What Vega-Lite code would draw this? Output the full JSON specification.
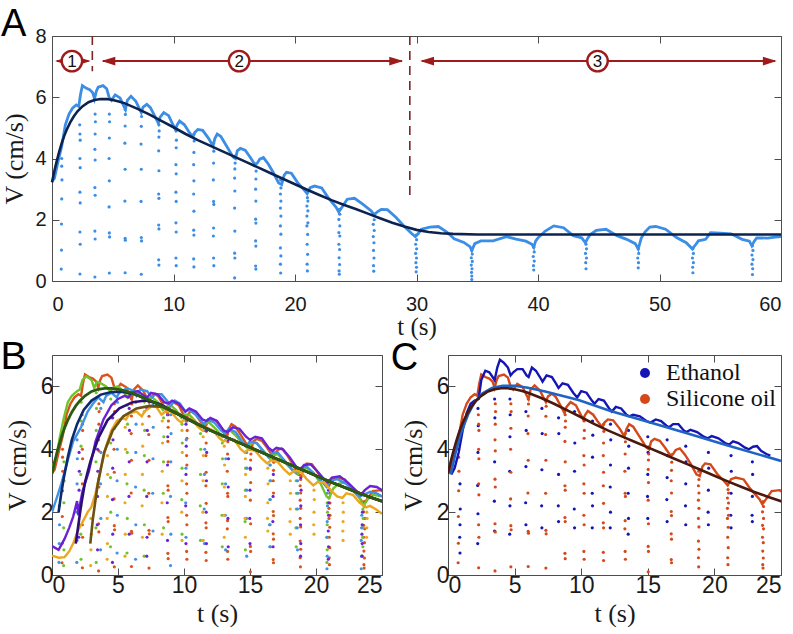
{
"$schema": "https://vega.github.io/schema/vega-lite/v6.json",
"padding": {"left": 0, "top": 5, "right": 0, "bottom": 0},
"background": "white",
"config": {
  "view": {"stroke": "#4d4d4d", "strokeWidth": 1},
  "axis": {"grid": false, "domain": false, "tickColor": "#4d4d4d", "tickWidth": 1, "labelFont": "Liberation Sans", "labelColor": "#1a1a1a", "titleFont": "Liberation Serif", "titleFontWeight": "normal", "titleColor": "#1a1a1a"}
},
"datasets": {
  "aTrace": [{"t":0,"v":3.25},{"t":0.2,"v":3.35},{"t":0.5,"v":3.9},{"t":0.8,"v":4.4},{"t":1.1,"v":5.1},{"t":1.4,"v":5.45},{"t":1.7,"v":5.65},{"t":2.0,"v":5.75},{"t":2.2,"v":5.7},{"t":2.35,"v":6.1},{"t":2.5,"v":6.38},{"t":2.8,"v":6.3},{"t":3.1,"v":6.25},{"t":3.35,"v":6.15},{"t":3.5,"v":5.95},{"t":3.65,"v":6.2},{"t":3.8,"v":6.33},{"t":4.2,"v":6.38},{"t":4.5,"v":6.28},{"t":4.7,"v":6.0},{"t":4.9,"v":5.9},{"t":5.2,"v":6.08},{"t":5.6,"v":5.98},{"t":5.9,"v":5.72},{"t":6.05,"v":5.6},{"t":6.2,"v":5.9},{"t":6.5,"v":6.03},{"t":6.9,"v":5.87},{"t":7.2,"v":5.62},{"t":7.35,"v":5.5},{"t":7.5,"v":5.68},{"t":7.8,"v":5.77},{"t":8.1,"v":5.66},{"t":8.5,"v":5.35},{"t":8.75,"v":5.15},{"t":8.9,"v":5.35},{"t":9.2,"v":5.5},{"t":9.6,"v":5.4},{"t":9.9,"v":5.15},{"t":10.15,"v":4.95},{"t":10.3,"v":5.1},{"t":10.5,"v":5.22},{"t":10.9,"v":5.1},{"t":11.3,"v":4.85},{"t":11.6,"v":4.7},{"t":11.75,"v":4.85},{"t":12.0,"v":4.95},{"t":12.4,"v":4.92},{"t":12.9,"v":4.65},{"t":13.25,"v":4.4},{"t":13.4,"v":4.65},{"t":13.6,"v":4.8},{"t":13.9,"v":4.72},{"t":14.5,"v":4.32},{"t":14.9,"v":4.05},{"t":15.1,"v":4.0},{"t":15.25,"v":4.25},{"t":15.5,"v":4.33},{"t":15.9,"v":4.27},{"t":16.3,"v":4.05},{"t":16.7,"v":3.8},{"t":16.9,"v":3.85},{"t":17.1,"v":3.98},{"t":17.4,"v":4.03},{"t":17.8,"v":3.82},{"t":18.2,"v":3.55},{"t":18.65,"v":3.2},{"t":18.9,"v":3.15},{"t":19.1,"v":3.45},{"t":19.3,"v":3.55},{"t":19.7,"v":3.52},{"t":20.2,"v":3.22},{"t":20.8,"v":2.95},{"t":21.0,"v":2.85},{"t":21.25,"v":3.05},{"t":21.6,"v":3.1},{"t":22.2,"v":3.04},{"t":22.7,"v":2.74},{"t":23.4,"v":2.4},{"t":23.6,"v":2.25},{"t":23.85,"v":2.4},{"t":24.3,"v":2.67},{"t":24.9,"v":2.7},{"t":25.6,"v":2.5},{"t":26.3,"v":2.28},{"t":26.5,"v":2.15},{"t":26.75,"v":2.25},{"t":27.1,"v":2.34},{"t":27.6,"v":2.33},{"t":28.3,"v":2.08},{"t":29.0,"v":1.78},{"t":29.6,"v":1.55},{"t":29.9,"v":1.45},{"t":30.15,"v":1.55},{"t":30.4,"v":1.69},{"t":31.1,"v":1.76},{"t":31.8,"v":1.78},{"t":32.5,"v":1.6},{"t":33.1,"v":1.38},{"t":33.9,"v":1.26},{"t":34.4,"v":1.12},{"t":34.55,"v":1.0},{"t":34.8,"v":1.22},{"t":35.3,"v":1.31},{"t":36.3,"v":1.31},{"t":37.4,"v":1.45},{"t":38.2,"v":1.37},{"t":39.0,"v":1.3},{"t":39.5,"v":1.2},{"t":39.65,"v":1.1},{"t":39.8,"v":1.3},{"t":40.0,"v":1.41},{"t":40.6,"v":1.63},{"t":41.3,"v":1.8},{"t":42.1,"v":1.74},{"t":42.9,"v":1.48},{"t":43.6,"v":1.41},{"t":43.9,"v":1.25},{"t":44.1,"v":1.4},{"t":44.3,"v":1.52},{"t":44.8,"v":1.65},{"t":45.6,"v":1.69},{"t":46.5,"v":1.48},{"t":47.3,"v":1.36},{"t":48.0,"v":1.22},{"t":48.25,"v":1.05},{"t":48.5,"v":1.4},{"t":48.8,"v":1.6},{"t":49.2,"v":1.76},{"t":49.7,"v":1.78},{"t":50.5,"v":1.69},{"t":51.4,"v":1.42},{"t":52.2,"v":1.25},{"t":52.7,"v":1.05},{"t":53.0,"v":1.2},{"t":53.2,"v":1.31},{"t":53.8,"v":1.36},{"t":54.2,"v":1.58},{"t":55.0,"v":1.56},{"t":55.9,"v":1.54},{"t":56.8,"v":1.36},{"t":57.4,"v":1.3},{"t":57.6,"v":1.15},{"t":57.8,"v":1.3},{"t":58.0,"v":1.41},{"t":58.9,"v":1.4},{"t":59.5,"v":1.43},{"t":60,"v":1.45}],
  "aDots": [
   {"t":0.8,"v":4.0},{"t":0.8,"v":3.75},{"t":0.82,"v":3.3},{"t":0.8,"v":2.68},{"t":0.78,"v":1.86},{"t":0.78,"v":1.01},{"t":0.76,"v":0.39},
   {"t":2.28,"v":5.1},{"t":2.3,"v":4.8},{"t":2.32,"v":4.6},{"t":2.3,"v":4.0},{"t":2.32,"v":3.7},{"t":2.3,"v":2.9},{"t":2.32,"v":2.55},{"t":2.3,"v":1.6},{"t":2.32,"v":1.2},{"t":2.3,"v":0.23},
   {"t":3.55,"v":5.45},{"t":3.57,"v":5.2},{"t":3.55,"v":4.8},{"t":3.53,"v":4.3},{"t":3.55,"v":3.95},{"t":3.53,"v":3.05},{"t":3.55,"v":2.8},{"t":3.53,"v":1.63},{"t":3.55,"v":1.37},{"t":3.53,"v":0.13},
   {"t":4.72,"v":5.45},{"t":4.74,"v":5.2},{"t":4.72,"v":4.67},{"t":4.7,"v":4.0},{"t":4.72,"v":3.27},{"t":4.7,"v":2.42},{"t":4.72,"v":1.57},{"t":4.74,"v":1.44},{"t":4.72,"v":0.26},
   {"t":6.02,"v":5.6},{"t":6.04,"v":5.44},{"t":6.02,"v":5.06},{"t":6.0,"v":4.5},{"t":6.02,"v":3.65},{"t":6.0,"v":2.61},{"t":6.02,"v":1.39},{"t":6.04,"v":1.33},{"t":6.02,"v":0.27},
   {"t":7.35,"v":5.57},{"t":7.37,"v":5.37},{"t":7.35,"v":5.05},{"t":7.33,"v":4.47},{"t":7.35,"v":3.65},{"t":7.33,"v":2.6},{"t":7.35,"v":1.42},{"t":7.37,"v":1.31},{"t":7.35,"v":0.22},
   {"t":8.8,"v":5.1},{"t":8.82,"v":4.9},{"t":8.8,"v":4.7},{"t":8.78,"v":4.25},{"t":8.8,"v":3.6},{"t":8.78,"v":2.84},{"t":8.8,"v":2.7},{"t":8.78,"v":1.83},{"t":8.8,"v":1.7},{"t":8.78,"v":0.69},{"t":8.8,"v":0.52},
   {"t":10.22,"v":4.9},{"t":10.24,"v":4.6},{"t":10.22,"v":4.35},{"t":10.2,"v":3.8},{"t":10.22,"v":3.5},{"t":10.2,"v":2.9},{"t":10.22,"v":2.6},{"t":10.2,"v":1.9},{"t":10.22,"v":1.6},{"t":10.2,"v":0.75},{"t":10.22,"v":0.5},
   {"t":11.68,"v":4.8},{"t":11.7,"v":4.57},{"t":11.68,"v":4.2},{"t":11.66,"v":3.8},{"t":11.68,"v":3.27},{"t":11.66,"v":2.84},{"t":11.68,"v":2.28},{"t":11.66,"v":1.66},{"t":11.68,"v":1.5},{"t":11.66,"v":0.72},{"t":11.68,"v":0.46},
   {"t":13.3,"v":4.5},{"t":13.32,"v":4.24},{"t":13.3,"v":3.85},{"t":13.28,"v":3.3},{"t":13.3,"v":2.6},{"t":13.32,"v":2.5},{"t":13.3,"v":1.73},{"t":13.28,"v":1.47},{"t":13.3,"v":0.75},{"t":13.32,"v":0.5},
   {"t":15.05,"v":4.08},{"t":15.07,"v":3.85},{"t":15.05,"v":3.66},{"t":15.03,"v":3.36},{"t":15.05,"v":2.94},{"t":15.03,"v":2.38},{"t":15.05,"v":1.63},{"t":15.03,"v":0.91},{"t":15.05,"v":0.75},{"t":15.03,"v":0.1},
   {"t":16.78,"v":3.82},{"t":16.8,"v":3.59},{"t":16.78,"v":3.33},{"t":16.76,"v":3.0},{"t":16.78,"v":2.61},{"t":16.76,"v":2.02},{"t":16.78,"v":1.89},{"t":16.76,"v":1.31},{"t":16.78,"v":1.14},{"t":16.76,"v":0.49},{"t":16.78,"v":0.39},
   {"t":18.82,"v":3.3},{"t":18.84,"v":3.04},{"t":18.8,"v":2.84},{"t":18.84,"v":2.61},{"t":18.8,"v":2.38},{"t":18.84,"v":2.12},{"t":18.8,"v":1.8},{"t":18.84,"v":1.53},{"t":18.8,"v":1.08},{"t":18.84,"v":0.82},{"t":18.8,"v":0.55},{"t":18.82,"v":0.26},
   {"t":21.02,"v":2.72},{"t":21.06,"v":2.61},{"t":20.98,"v":2.45},{"t":21.06,"v":2.29},{"t":20.98,"v":2.12},{"t":21.06,"v":1.9},{"t":20.98,"v":1.8},{"t":21.04,"v":1.52},{"t":21.0,"v":1.2},{"t":21.04,"v":0.87},{"t":21.0,"v":0.55},{"t":21.02,"v":0.33},
   {"t":23.65,"v":2.34},{"t":23.69,"v":2.18},{"t":23.61,"v":2.01},{"t":23.69,"v":1.8},{"t":23.61,"v":1.58},{"t":23.69,"v":1.47},{"t":23.61,"v":1.2},{"t":23.67,"v":1.03},{"t":23.63,"v":0.76},{"t":23.67,"v":0.54},{"t":23.63,"v":0.33},{"t":23.65,"v":0.22},
   {"t":26.48,"v":2.2},{"t":26.52,"v":2.0},{"t":26.44,"v":1.85},{"t":26.52,"v":1.65},{"t":26.44,"v":1.45},{"t":26.5,"v":1.25},{"t":26.46,"v":1.0},{"t":26.5,"v":0.75},{"t":26.46,"v":0.5},{"t":26.48,"v":0.32},
   {"t":29.97,"v":1.5},{"t":30.01,"v":1.35},{"t":29.93,"v":1.2},{"t":30.01,"v":1.05},{"t":29.93,"v":0.9},{"t":30.0,"v":0.75},{"t":29.95,"v":0.6},{"t":30.0,"v":0.45},{"t":29.97,"v":0.3},
   {"t":34.55,"v":1.0},{"t":34.59,"v":0.88},{"t":34.51,"v":0.76},{"t":34.59,"v":0.64},{"t":34.51,"v":0.52},{"t":34.57,"v":0.4},{"t":34.53,"v":0.28},{"t":34.55,"v":0.16},{"t":34.55,"v":0.05},
   {"t":39.65,"v":1.1},{"t":39.69,"v":0.95},{"t":39.61,"v":0.8},{"t":39.69,"v":0.65},{"t":39.63,"v":0.5},{"t":39.65,"v":0.36},
   {"t":43.95,"v":1.2},{"t":43.99,"v":1.05},{"t":43.91,"v":0.9},{"t":43.99,"v":0.75},{"t":43.93,"v":0.6},{"t":43.95,"v":0.4},
   {"t":48.25,"v":1.05},{"t":48.29,"v":0.9},{"t":48.21,"v":0.75},{"t":48.27,"v":0.6},{"t":48.25,"v":0.43},
   {"t":52.75,"v":1.05},{"t":52.79,"v":0.9},{"t":52.71,"v":0.75},{"t":52.79,"v":0.6},{"t":52.73,"v":0.45},{"t":52.75,"v":0.27},
   {"t":57.65,"v":1.15},{"t":57.69,"v":1.0},{"t":57.61,"v":0.85},{"t":57.69,"v":0.7},{"t":57.61,"v":0.55},{"t":57.67,"v":0.4},{"t":57.65,"v":0.21}],
  "aFit": [{"t":0,"v":3.22},{"t":0.2,"v":3.6},{"t":0.4,"v":3.93},{"t":0.6,"v":4.23},{"t":0.8,"v":4.5},{"t":1.0,"v":4.73},{"t":1.2,"v":4.93},{"t":1.5,"v":5.18},{"t":1.8,"v":5.38},{"t":2.1,"v":5.54},{"t":2.5,"v":5.7},{"t":3.0,"v":5.84},{"t":3.5,"v":5.91},{"t":4.0,"v":5.94},{"t":4.5,"v":5.94},{"t":5.0,"v":5.91},{"t":5.5,"v":5.86},{"t":6.0,"v":5.8},{"t":7.0,"v":5.63},{"t":8.0,"v":5.44},{"t":9.0,"v":5.23},{"t":10.0,"v":5.02},{"t":11.0,"v":4.8},{"t":12.0,"v":4.6},{"t":13.0,"v":4.42},{"t":14.0,"v":4.24},{"t":15.0,"v":4.06},{"t":16.0,"v":3.88},{"t":17.0,"v":3.7},{"t":18.0,"v":3.52},{"t":19.0,"v":3.34},{"t":20.0,"v":3.16},{"t":21.0,"v":2.98},{"t":22.0,"v":2.81},{"t":23.0,"v":2.64},{"t":24.0,"v":2.49},{"t":25.0,"v":2.35},{"t":26.0,"v":2.2},{"t":27.0,"v":2.05},{"t":28.0,"v":1.9},{"t":29.0,"v":1.78},{"t":30.0,"v":1.67},{"t":31.0,"v":1.6},{"t":32.0,"v":1.56},{"t":33.0,"v":1.54},{"t":35.0,"v":1.52},{"t":40,"v":1.52},{"t":50,"v":1.52},{"t":60,"v":1.52}],
  "aRules": [{"t":3.32,"v":8,"v2":6.85},{"t":29.45,"v":8,"v2":2.72}],
  "aArrows": [{"t":0.4,"t2":3.0,"v":7.18},{"t":4.2,"t2":28.8,"v":7.18},{"t":30.45,"t2":59.5,"v":7.18}],
  "aHeads": [{"t":0.25,"v":7.18,"d":"l"},{"t":3.18,"v":7.18,"d":"r"},{"t":4.07,"v":7.18,"d":"l"},{"t":28.9,"v":7.18,"d":"r"},{"t":30.3,"v":7.18,"d":"l"},{"t":59.65,"v":7.18,"d":"r"}],
  "aCircles": [{"t":1.64,"v":7.18,"n":"1"},{"t":15.4,"v":7.18,"n":"2"},{"t":44.9,"v":7.18,"n":"3"}],
  "bTrace": [
   {"s":"g","t":0,"v":3.4},{"s":"g","t":0.3,"v":3.7},{"s":"g","t":0.6,"v":4.4},{"s":"g","t":0.9,"v":5.0},{"s":"g","t":1.2,"v":5.5},{"s":"g","t":1.5,"v":5.7},{"s":"g","t":1.9,"v":5.85},{"s":"g","t":2.1,"v":5.9},{"s":"g","t":2.3,"v":6.2},{"s":"g","t":2.6,"v":6.32},{"s":"g","t":3.0,"v":6.2},{"s":"g","t":3.2,"v":5.95},{"s":"g","t":3.4,"v":6.15},{"s":"g","t":3.7,"v":6.1},{"s":"g","t":4.1,"v":6.0},{"s":"g","t":4.4,"v":5.85},{"s":"g","t":4.6,"v":5.95},{"s":"g","t":5.0,"v":6.0},{"s":"g","t":5.4,"v":5.85},{"s":"g","t":5.7,"v":5.65},{"s":"g","t":5.9,"v":5.8},{"s":"g","t":6.3,"v":5.85},{"s":"g","t":6.7,"v":5.7},{"s":"g","t":7.0,"v":5.5},{"s":"g","t":7.2,"v":5.62},{"s":"g","t":7.6,"v":5.65},{"s":"g","t":8.0,"v":5.5},{"s":"g","t":8.4,"v":5.25},{"s":"g","t":8.6,"v":5.35},{"s":"g","t":9.0,"v":5.4},{"s":"g","t":9.4,"v":5.25},{"s":"g","t":9.8,"v":5.0},{"s":"g","t":10.0,"v":5.1},{"s":"g","t":10.4,"v":5.1},{"s":"g","t":10.8,"v":4.92},{"s":"g","t":11.2,"v":4.7},{"s":"g","t":11.4,"v":4.8},{"s":"g","t":11.9,"v":4.85},{"s":"g","t":12.4,"v":4.65},{"s":"g","t":12.9,"v":4.4},{"s":"g","t":13.1,"v":4.55},{"s":"g","t":13.5,"v":4.6},{"s":"g","t":14.0,"v":4.4},{"s":"g","t":14.5,"v":4.15},{"s":"g","t":14.8,"v":4.05},{"s":"g","t":15.1,"v":4.2},{"s":"g","t":15.5,"v":4.2},{"s":"g","t":16.0,"v":3.95},{"s":"g","t":16.5,"v":3.7},{"s":"g","t":16.7,"v":3.8},{"s":"g","t":17.1,"v":3.85},{"s":"g","t":17.6,"v":3.6},{"s":"g","t":18.3,"v":3.3},{"s":"g","t":18.6,"v":3.2},{"s":"g","t":18.9,"v":3.35},{"s":"g","t":19.3,"v":3.4},{"s":"g","t":19.8,"v":3.25},{"s":"g","t":20.3,"v":2.95},{"s":"g","t":20.8,"v":2.5},{"s":"g","t":21.0,"v":2.45},{"s":"g","t":21.3,"v":2.75},{"s":"g","t":21.7,"v":2.9},{"s":"g","t":22.2,"v":2.95},{"s":"g","t":22.8,"v":2.75},{"s":"g","t":23.3,"v":2.45},{"s":"g","t":23.6,"v":2.2},{"s":"g","t":23.9,"v":2.4},{"s":"g","t":24.3,"v":2.55},{"s":"g","t":25,"v":2.5},
   {"s":"b","t":0,"v":2.0},{"s":"b","t":0.4,"v":2.5},{"s":"b","t":0.7,"v":2.9},{"s":"b","t":1.1,"v":3.5},{"s":"b","t":1.6,"v":4.25},{"s":"b","t":2.2,"v":4.7},{"s":"b","t":2.7,"v":5.2},{"s":"b","t":3.1,"v":5.45},{"s":"b","t":3.5,"v":5.65},{"s":"b","t":3.9,"v":5.5},{"s":"b","t":4.1,"v":5.7},{"s":"b","t":4.5,"v":5.8},{"s":"b","t":4.9,"v":5.65},{"s":"b","t":5.1,"v":5.8},{"s":"b","t":5.7,"v":5.95},{"s":"b","t":6.2,"v":5.85},{"s":"b","t":6.4,"v":5.7},{"s":"b","t":6.7,"v":5.9},{"s":"b","t":7.2,"v":5.85},{"s":"b","t":7.6,"v":5.65},{"s":"b","t":7.8,"v":5.75},{"s":"b","t":8.3,"v":5.75},{"s":"b","t":8.8,"v":5.5},{"s":"b","t":9.0,"v":5.4},{"s":"b","t":9.3,"v":5.55},{"s":"b","t":9.7,"v":5.45},{"s":"b","t":10.1,"v":5.2},{"s":"b","t":10.3,"v":5.25},{"s":"b","t":10.8,"v":5.15},{"s":"b","t":11.3,"v":4.9},{"s":"b","t":11.5,"v":4.8},{"s":"b","t":11.8,"v":4.95},{"s":"b","t":12.3,"v":4.85},{"s":"b","t":12.8,"v":4.6},{"s":"b","t":13.1,"v":4.5},{"s":"b","t":13.4,"v":4.65},{"s":"b","t":13.9,"v":4.55},{"s":"b","t":14.4,"v":4.25},{"s":"b","t":14.7,"v":4.1},{"s":"b","t":15.0,"v":4.25},{"s":"b","t":15.5,"v":4.2},{"s":"b","t":16.0,"v":3.95},{"s":"b","t":16.4,"v":3.75},{"s":"b","t":16.7,"v":3.9},{"s":"b","t":17.1,"v":3.9},{"s":"b","t":17.6,"v":3.65},{"s":"b","t":18.2,"v":3.35},{"s":"b","t":18.5,"v":3.25},{"s":"b","t":18.8,"v":3.4},{"s":"b","t":19.3,"v":3.45},{"s":"b","t":19.9,"v":3.2},{"s":"b","t":20.5,"v":2.95},{"s":"b","t":20.8,"v":2.8},{"s":"b","t":21.1,"v":3.0},{"s":"b","t":21.6,"v":3.05},{"s":"b","t":22.3,"v":2.9},{"s":"b","t":22.9,"v":2.65},{"s":"b","t":23.3,"v":2.5},{"s":"b","t":23.6,"v":2.55},{"s":"b","t":24.1,"v":2.65},{"s":"b","t":24.6,"v":2.6},{"s":"b","t":25,"v":2.5},
   {"s":"p","t":0,"v":0.92},{"s":"p","t":0.5,"v":0.8},{"s":"p","t":0.95,"v":1.15},{"s":"p","t":1.3,"v":1.5},{"s":"p","t":1.6,"v":1.85},{"s":"p","t":1.9,"v":2.35},{"s":"p","t":2.0,"v":1.9},{"s":"p","t":2.1,"v":2.2},{"s":"p","t":2.3,"v":2.65},{"s":"p","t":2.8,"v":3.3},{"s":"p","t":3.3,"v":4.25},{"s":"p","t":3.9,"v":4.95},{"s":"p","t":4.5,"v":5.4},{"s":"p","t":5.0,"v":5.6},{"s":"p","t":5.5,"v":5.7},{"s":"p","t":5.8,"v":5.65},{"s":"p","t":6.0,"v":5.8},{"s":"p","t":6.5,"v":5.85},{"s":"p","t":7.0,"v":5.7},{"s":"p","t":7.2,"v":5.65},{"s":"p","t":7.5,"v":5.8},{"s":"p","t":8.0,"v":5.75},{"s":"p","t":8.5,"v":5.5},{"s":"p","t":8.8,"v":5.45},{"s":"p","t":9.1,"v":5.55},{"s":"p","t":9.6,"v":5.45},{"s":"p","t":10.1,"v":5.2},{"s":"p","t":10.4,"v":5.3},{"s":"p","t":10.9,"v":5.2},{"s":"p","t":11.4,"v":4.95},{"s":"p","t":11.7,"v":4.9},{"s":"p","t":12.0,"v":5.0},{"s":"p","t":12.5,"v":4.9},{"s":"p","t":13.0,"v":4.6},{"s":"p","t":13.3,"v":4.55},{"s":"p","t":13.7,"v":4.7},{"s":"p","t":14.2,"v":4.65},{"s":"p","t":14.7,"v":4.4},{"s":"p","t":15.0,"v":4.3},{"s":"p","t":15.4,"v":4.4},{"s":"p","t":15.9,"v":4.35},{"s":"p","t":16.4,"v":4.05},{"s":"p","t":16.7,"v":3.95},{"s":"p","t":17.0,"v":4.05},{"s":"p","t":17.5,"v":4.0},{"s":"p","t":18.0,"v":3.75},{"s":"p","t":18.5,"v":3.45},{"s":"p","t":18.8,"v":3.35},{"s":"p","t":19.1,"v":3.5},{"s":"p","t":19.6,"v":3.52},{"s":"p","t":20.1,"v":3.3},{"s":"p","t":20.6,"v":3.05},{"s":"p","t":20.9,"v":2.95},{"s":"p","t":21.2,"v":3.1},{"s":"p","t":21.8,"v":3.14},{"s":"p","t":22.4,"v":2.95},{"s":"p","t":23.0,"v":2.7},{"s":"p","t":23.4,"v":2.55},{"s":"p","t":23.7,"v":2.7},{"s":"p","t":24.1,"v":2.83},{"s":"p","t":24.6,"v":2.8},{"s":"p","t":25,"v":2.7},
   {"s":"y","t":0,"v":0.62},{"s":"y","t":0.5,"v":0.55},{"s":"y","t":0.95,"v":0.57},{"s":"y","t":1.3,"v":0.75},{"s":"y","t":1.6,"v":1.0},{"s":"y","t":1.96,"v":1.4},{"s":"y","t":2.2,"v":1.6},{"s":"y","t":2.46,"v":1.8},{"s":"y","t":2.7,"v":2.0},{"s":"y","t":2.97,"v":2.15},{"s":"y","t":3.3,"v":2.6},{"s":"y","t":3.7,"v":3.4},{"s":"y","t":4.1,"v":4.1},{"s":"y","t":4.5,"v":4.6},{"s":"y","t":4.9,"v":4.9},{"s":"y","t":5.3,"v":5.0},{"s":"y","t":5.6,"v":4.95},{"s":"y","t":5.9,"v":5.15},{"s":"y","t":6.4,"v":5.2},{"s":"y","t":6.8,"v":5.05},{"s":"y","t":7.0,"v":5.2},{"s":"y","t":7.5,"v":5.35},{"s":"y","t":7.9,"v":5.35},{"s":"y","t":8.3,"v":5.1},{"s":"y","t":8.6,"v":5.2},{"s":"y","t":9.0,"v":5.2},{"s":"y","t":9.5,"v":4.95},{"s":"y","t":9.8,"v":4.85},{"s":"y","t":10.1,"v":5.0},{"s":"y","t":10.6,"v":4.95},{"s":"y","t":11.1,"v":4.7},{"s":"y","t":11.4,"v":4.6},{"s":"y","t":11.7,"v":4.7},{"s":"y","t":12.2,"v":4.6},{"s":"y","t":12.7,"v":4.35},{"s":"y","t":13.0,"v":4.25},{"s":"y","t":13.3,"v":4.35},{"s":"y","t":13.8,"v":4.3},{"s":"y","t":14.3,"v":4.0},{"s":"y","t":14.6,"v":3.9},{"s":"y","t":14.9,"v":4.0},{"s":"y","t":15.4,"v":3.95},{"s":"y","t":15.9,"v":3.7},{"s":"y","t":16.3,"v":3.55},{"s":"y","t":16.6,"v":3.65},{"s":"y","t":17.1,"v":3.6},{"s":"y","t":17.6,"v":3.35},{"s":"y","t":18.0,"v":3.2},{"s":"y","t":18.3,"v":3.3},{"s":"y","t":18.8,"v":3.3},{"s":"y","t":19.3,"v":3.05},{"s":"y","t":19.8,"v":2.85},{"s":"y","t":20.1,"v":2.95},{"s":"y","t":20.6,"v":2.95},{"s":"y","t":21.1,"v":2.7},{"s":"y","t":21.6,"v":2.5},{"s":"y","t":22.0,"v":2.45},{"s":"y","t":22.3,"v":2.6},{"s":"y","t":22.8,"v":2.55},{"s":"y","t":23.3,"v":2.3},{"s":"y","t":23.8,"v":2.15},{"s":"y","t":24.1,"v":2.2},{"s":"y","t":24.5,"v":2.1},{"s":"y","t":25,"v":1.95}],
  "bDots": [
   {"s":"g","t":0.9,"v":3.6},{"s":"g","t":0.92,"v":3.0},{"s":"g","t":0.9,"v":2.3},{"s":"g","t":0.88,"v":1.5},{"s":"g","t":0.9,"v":0.8},{"s":"g","t":0.88,"v":0.3},
   {"s":"g","t":2.2,"v":5.5},{"s":"g","t":2.22,"v":4.9},{"s":"g","t":2.2,"v":4.1},{"s":"g","t":2.18,"v":3.2},{"s":"g","t":2.2,"v":2.2},{"s":"g","t":2.18,"v":1.3},{"s":"g","t":2.2,"v":0.5},
   {"s":"g","t":3.35,"v":5.8},{"s":"g","t":3.37,"v":5.3},{"s":"g","t":3.35,"v":4.6},{"s":"g","t":3.33,"v":3.6},{"s":"g","t":3.35,"v":2.5},{"s":"g","t":3.33,"v":1.5},{"s":"g","t":3.35,"v":0.4},
   {"s":"g","t":4.45,"v":5.6},{"s":"g","t":4.47,"v":5.0},{"s":"g","t":4.45,"v":4.2},{"s":"g","t":4.43,"v":3.1},{"s":"g","t":4.45,"v":2.0},{"s":"g","t":4.43,"v":0.9},
   {"s":"g","t":5.7,"v":5.4},{"s":"g","t":5.72,"v":4.8},{"s":"g","t":5.7,"v":3.9},{"s":"g","t":5.68,"v":2.9},{"s":"g","t":5.7,"v":1.8},{"s":"g","t":5.68,"v":0.7},
   {"s":"g","t":7.0,"v":5.2},{"s":"g","t":7.02,"v":4.6},{"s":"g","t":7.0,"v":3.8},{"s":"g","t":6.98,"v":2.7},{"s":"g","t":7.0,"v":1.6},{"s":"g","t":6.98,"v":0.6},
   {"s":"g","t":8.45,"v":5.0},{"s":"g","t":8.47,"v":4.4},{"s":"g","t":8.45,"v":3.6},{"s":"g","t":8.43,"v":2.6},{"s":"g","t":8.45,"v":1.5},
   {"s":"g","t":9.85,"v":4.8},{"s":"g","t":9.87,"v":4.2},{"s":"g","t":9.85,"v":3.4},{"s":"g","t":9.83,"v":2.4},{"s":"g","t":9.85,"v":1.3},
   {"s":"g","t":11.25,"v":4.5},{"s":"g","t":11.27,"v":4.0},{"s":"g","t":11.25,"v":3.2},{"s":"g","t":11.23,"v":2.2},{"s":"g","t":11.25,"v":1.1},
   {"s":"g","t":12.9,"v":4.2},{"s":"g","t":12.92,"v":3.7},{"s":"g","t":12.9,"v":2.9},{"s":"g","t":12.88,"v":1.9},{"s":"g","t":12.9,"v":0.9},
   {"s":"g","t":14.65,"v":3.9},{"s":"g","t":14.67,"v":3.4},{"s":"g","t":14.65,"v":2.7},{"s":"g","t":14.63,"v":1.7},{"s":"g","t":14.65,"v":0.8},
   {"s":"g","t":16.55,"v":3.5},{"s":"g","t":16.57,"v":3.0},{"s":"g","t":16.55,"v":2.4},{"s":"g","t":16.53,"v":1.6},{"s":"g","t":16.55,"v":0.9},
   {"s":"g","t":18.5,"v":3.0},{"s":"g","t":18.52,"v":2.6},{"s":"g","t":18.5,"v":2.1},{"s":"g","t":18.48,"v":1.5},{"s":"g","t":18.5,"v":0.9},
   {"s":"g","t":20.85,"v":2.3},{"s":"g","t":20.87,"v":2.0},{"s":"g","t":20.85,"v":1.6},{"s":"g","t":20.83,"v":1.2},{"s":"g","t":20.85,"v":0.8},{"s":"g","t":20.83,"v":0.4},
   {"s":"g","t":23.55,"v":2.1},{"s":"g","t":23.57,"v":1.8},{"s":"g","t":23.55,"v":1.5},{"s":"g","t":23.53,"v":1.2},{"s":"g","t":23.55,"v":0.9},{"s":"g","t":23.53,"v":0.6},
   {"s":"b","t":0.55,"v":2.2},{"s":"b","t":0.57,"v":1.6},{"s":"b","t":0.55,"v":1.0},{"s":"b","t":0.53,"v":0.4},
   {"s":"b","t":1.9,"v":4.3},{"s":"b","t":1.92,"v":3.7},{"s":"b","t":1.9,"v":2.9},{"s":"b","t":1.88,"v":2.0},{"s":"b","t":1.9,"v":1.1},{"s":"b","t":1.88,"v":0.4},
   {"s":"b","t":3.7,"v":5.3},{"s":"b","t":3.72,"v":4.7},{"s":"b","t":3.7,"v":3.9},{"s":"b","t":3.68,"v":2.9},{"s":"b","t":3.7,"v":1.8},{"s":"b","t":3.68,"v":0.8},
   {"s":"b","t":4.95,"v":5.5},{"s":"b","t":4.97,"v":4.9},{"s":"b","t":4.95,"v":4.0},{"s":"b","t":4.93,"v":3.0},{"s":"b","t":4.95,"v":1.9},{"s":"b","t":4.93,"v":0.7},
   {"s":"b","t":6.35,"v":5.5},{"s":"b","t":6.37,"v":4.8},{"s":"b","t":6.35,"v":3.9},{"s":"b","t":6.33,"v":2.8},{"s":"b","t":6.35,"v":1.6},{"s":"b","t":6.33,"v":0.5},
   {"s":"b","t":7.65,"v":5.4},{"s":"b","t":7.67,"v":4.7},{"s":"b","t":7.65,"v":3.7},{"s":"b","t":7.63,"v":2.6},{"s":"b","t":7.65,"v":1.4},
   {"s":"b","t":9.0,"v":5.1},{"s":"b","t":9.02,"v":4.5},{"s":"b","t":9.0,"v":3.6},{"s":"b","t":8.98,"v":2.5},{"s":"b","t":9.0,"v":1.3},{"s":"b","t":8.98,"v":0.3},
   {"s":"b","t":10.15,"v":4.9},{"s":"b","t":10.17,"v":4.3},{"s":"b","t":10.15,"v":3.4},{"s":"b","t":10.13,"v":2.3},{"s":"b","t":10.15,"v":1.2},
   {"s":"b","t":11.55,"v":4.6},{"s":"b","t":11.57,"v":4.0},{"s":"b","t":11.55,"v":3.2},{"s":"b","t":11.53,"v":2.1},{"s":"b","t":11.55,"v":1.0},
   {"s":"b","t":13.15,"v":4.3},{"s":"b","t":13.17,"v":3.7},{"s":"b","t":13.15,"v":2.9},{"s":"b","t":13.13,"v":1.9},{"s":"b","t":13.15,"v":0.8},
   {"s":"b","t":14.75,"v":3.9},{"s":"b","t":14.77,"v":3.4},{"s":"b","t":14.75,"v":2.7},{"s":"b","t":14.73,"v":1.8},{"s":"b","t":14.75,"v":0.6},
   {"s":"b","t":16.5,"v":3.5},{"s":"b","t":16.52,"v":3.0},{"s":"b","t":16.5,"v":2.4},{"s":"b","t":16.48,"v":1.6},{"s":"b","t":16.5,"v":0.9},
   {"s":"b","t":18.6,"v":3.0},{"s":"b","t":18.62,"v":2.6},{"s":"b","t":18.6,"v":2.1},{"s":"b","t":18.58,"v":1.5},{"s":"b","t":18.6,"v":0.8},
   {"s":"b","t":20.85,"v":2.6},{"s":"b","t":20.87,"v":2.2},{"s":"b","t":20.85,"v":1.7},{"s":"b","t":20.83,"v":1.2},{"s":"b","t":20.85,"v":0.6},{"s":"b","t":20.83,"v":0.2},
   {"s":"b","t":23.45,"v":2.3},{"s":"b","t":23.47,"v":1.9},{"s":"b","t":23.45,"v":1.5},{"s":"b","t":23.43,"v":1.1},{"s":"b","t":23.45,"v":0.6},{"s":"b","t":23.43,"v":0.2},
   {"s":"p","t":2.05,"v":3.9},{"s":"p","t":2.07,"v":3.3},{"s":"p","t":2.05,"v":2.7},{"s":"p","t":2.03,"v":2.2},{"s":"p","t":2.05,"v":1.6},{"s":"p","t":2.03,"v":1.2},
   {"s":"p","t":3.45,"v":4.0},{"s":"p","t":3.47,"v":3.3},{"s":"p","t":3.45,"v":2.5},{"s":"p","t":3.43,"v":1.6},{"s":"p","t":3.45,"v":0.8},
   {"s":"p","t":4.6,"v":5.0},{"s":"p","t":4.62,"v":4.3},{"s":"p","t":4.6,"v":3.4},{"s":"p","t":4.58,"v":2.4},{"s":"p","t":4.6,"v":1.3},{"s":"p","t":4.58,"v":0.4},
   {"s":"p","t":5.85,"v":5.3},{"s":"p","t":5.87,"v":4.6},{"s":"p","t":5.85,"v":3.6},{"s":"p","t":5.83,"v":2.5},{"s":"p","t":5.85,"v":1.3},
   {"s":"p","t":7.2,"v":5.3},{"s":"p","t":7.22,"v":4.6},{"s":"p","t":7.2,"v":3.6},{"s":"p","t":7.18,"v":2.5},{"s":"p","t":7.2,"v":1.2},{"s":"p","t":7.18,"v":0.6},
   {"s":"p","t":8.75,"v":5.1},{"s":"p","t":8.77,"v":4.4},{"s":"p","t":8.75,"v":3.5},{"s":"p","t":8.73,"v":2.3},{"s":"p","t":8.75,"v":1.1},
   {"s":"p","t":10.15,"v":4.8},{"s":"p","t":10.17,"v":4.1},{"s":"p","t":10.15,"v":3.2},{"s":"p","t":10.13,"v":2.2},{"s":"p","t":10.15,"v":1.0},
   {"s":"p","t":11.7,"v":4.6},{"s":"p","t":11.72,"v":3.9},{"s":"p","t":11.7,"v":3.0},{"s":"p","t":11.68,"v":2.0},{"s":"p","t":11.7,"v":1.0},
   {"s":"p","t":13.35,"v":4.3},{"s":"p","t":13.37,"v":3.7},{"s":"p","t":13.35,"v":2.8},{"s":"p","t":13.33,"v":1.8},{"s":"p","t":13.35,"v":0.9},
   {"s":"p","t":15.0,"v":4.0},{"s":"p","t":15.02,"v":3.4},{"s":"p","t":15.0,"v":2.7},{"s":"p","t":14.98,"v":1.8},{"s":"p","t":15.0,"v":1.0},
   {"s":"p","t":16.75,"v":3.7},{"s":"p","t":16.77,"v":3.2},{"s":"p","t":16.75,"v":2.5},{"s":"p","t":16.73,"v":1.7},{"s":"p","t":16.75,"v":0.9},
   {"s":"p","t":18.85,"v":3.1},{"s":"p","t":18.87,"v":2.7},{"s":"p","t":18.85,"v":2.2},{"s":"p","t":18.83,"v":1.6},{"s":"p","t":18.85,"v":1.0},{"s":"p","t":18.83,"v":0.6},
   {"s":"p","t":20.95,"v":2.7},{"s":"p","t":20.97,"v":2.3},{"s":"p","t":20.95,"v":1.9},{"s":"p","t":20.93,"v":1.4},{"s":"p","t":20.95,"v":0.9},{"s":"p","t":20.93,"v":0.5},
   {"s":"p","t":23.5,"v":2.3},{"s":"p","t":23.52,"v":2.0},{"s":"p","t":23.5,"v":1.6},{"s":"p","t":23.48,"v":1.3},{"s":"p","t":23.5,"v":1.0},{"s":"p","t":23.48,"v":0.6},
   {"s":"y","t":2.95,"v":1.8},{"s":"y","t":2.97,"v":1.3},{"s":"y","t":2.95,"v":0.8},{"s":"y","t":2.93,"v":0.3},
   {"s":"y","t":4.2,"v":3.8},{"s":"y","t":4.22,"v":3.2},{"s":"y","t":4.2,"v":2.5},{"s":"y","t":4.18,"v":1.8},{"s":"y","t":4.2,"v":1.0},{"s":"y","t":4.18,"v":0.5},
   {"s":"y","t":5.55,"v":4.7},{"s":"y","t":5.57,"v":4.0},{"s":"y","t":5.55,"v":3.2},{"s":"y","t":5.53,"v":2.3},{"s":"y","t":5.55,"v":1.3},{"s":"y","t":5.53,"v":0.6},
   {"s":"y","t":6.85,"v":4.8},{"s":"y","t":6.87,"v":4.1},{"s":"y","t":6.85,"v":3.2},{"s":"y","t":6.83,"v":2.2},{"s":"y","t":6.85,"v":1.2},
   {"s":"y","t":8.35,"v":4.9},{"s":"y","t":8.37,"v":4.2},{"s":"y","t":8.35,"v":3.3},{"s":"y","t":8.33,"v":2.3},{"s":"y","t":8.35,"v":1.3},
   {"s":"y","t":9.85,"v":4.6},{"s":"y","t":9.87,"v":3.9},{"s":"y","t":9.85,"v":3.0},{"s":"y","t":9.83,"v":2.0},{"s":"y","t":9.85,"v":1.1},
   {"s":"y","t":11.45,"v":4.4},{"s":"y","t":11.47,"v":3.8},{"s":"y","t":11.45,"v":3.0},{"s":"y","t":11.43,"v":2.0},{"s":"y","t":11.45,"v":1.1},
   {"s":"y","t":13.05,"v":4.1},{"s":"y","t":13.07,"v":3.5},{"s":"y","t":13.05,"v":2.8},{"s":"y","t":13.03,"v":1.9},{"s":"y","t":13.05,"v":1.2},
   {"s":"y","t":14.65,"v":3.7},{"s":"y","t":14.67,"v":3.2},{"s":"y","t":14.65,"v":2.5},{"s":"y","t":14.63,"v":1.8},{"s":"y","t":14.65,"v":1.2},
   {"s":"y","t":16.35,"v":3.4},{"s":"y","t":16.37,"v":2.9},{"s":"y","t":16.35,"v":2.3},{"s":"y","t":16.33,"v":1.8},{"s":"y","t":16.35,"v":1.4},
   {"s":"y","t":18.05,"v":3.0},{"s":"y","t":18.07,"v":2.6},{"s":"y","t":18.05,"v":2.1},{"s":"y","t":18.03,"v":1.7},{"s":"y","t":18.05,"v":1.3},
   {"s":"y","t":19.85,"v":2.7},{"s":"y","t":19.87,"v":2.4},{"s":"y","t":19.85,"v":2.0},{"s":"y","t":19.83,"v":1.6},{"s":"y","t":19.85,"v":1.3},
   {"s":"y","t":22.05,"v":2.3},{"s":"y","t":22.07,"v":2.0},{"s":"y","t":22.05,"v":1.7},{"s":"y","t":22.03,"v":1.4},{"s":"y","t":22.05,"v":1.1},
   {"s":"y","t":23.85,"v":2.0},{"s":"y","t":23.87,"v":1.8},{"s":"y","t":23.85,"v":1.5},{"s":"y","t":23.83,"v":1.2}],
  "bFit": [
   {"s":"n","t":0.5,"v":2.0},{"s":"n","t":0.7,"v":2.6},{"s":"n","t":0.9,"v":3.1},{"s":"n","t":1.2,"v":3.75},{"s":"n","t":1.5,"v":4.3},{"s":"n","t":1.9,"v":4.8},{"s":"n","t":2.4,"v":5.25},{"s":"n","t":3.0,"v":5.55},{"s":"n","t":3.7,"v":5.74},{"s":"n","t":4.5,"v":5.82},{"s":"n","t":5.3,"v":5.83},{"s":"n","t":6.2,"v":5.76},{"s":"n","t":7.0,"v":5.63},{"s":"n","t":8.0,"v":5.44},{"s":"n","t":9.0,"v":5.23},{"s":"n","t":10.0,"v":5.02},{"s":"n","t":12.0,"v":4.6},{"s":"n","t":15.0,"v":4.06},{"s":"n","t":18.0,"v":3.52},{"s":"n","t":21.0,"v":2.98},{"s":"n","t":24.0,"v":2.49},{"s":"n","t":25.0,"v":2.35},
   {"s":"i","t":1.8,"v":1.0},{"s":"i","t":2.0,"v":1.6},{"s":"i","t":2.2,"v":2.2},{"s":"i","t":2.5,"v":2.95},{"s":"i","t":2.9,"v":3.6},{"s":"i","t":3.5,"v":4.35},{"s":"i","t":4.2,"v":4.92},{"s":"i","t":5.1,"v":5.3},{"s":"i","t":6.1,"v":5.5},{"s":"i","t":7.1,"v":5.55},{"s":"i","t":8.1,"v":5.45},{"s":"i","t":9.0,"v":5.25},{"s":"i","t":10.0,"v":5.02},{"s":"i","t":12.0,"v":4.6},{"s":"i","t":15.0,"v":4.06},{"s":"i","t":18.0,"v":3.52},{"s":"i","t":21.0,"v":2.98},{"s":"i","t":24.0,"v":2.49},{"s":"i","t":25.0,"v":2.35},
   {"s":"o","t":2.9,"v":1.0},{"s":"o","t":3.1,"v":1.8},{"s":"o","t":3.45,"v":2.85},{"s":"o","t":3.95,"v":3.9},{"s":"o","t":4.6,"v":4.6},{"s":"o","t":5.4,"v":5.05},{"s":"o","t":6.4,"v":5.3},{"s":"o","t":7.4,"v":5.38},{"s":"o","t":8.4,"v":5.35},{"s":"o","t":9.3,"v":5.2},{"s":"o","t":10.2,"v":5.0},{"s":"o","t":12.0,"v":4.6},{"s":"o","t":15.0,"v":4.06},{"s":"o","t":18.0,"v":3.52},{"s":"o","t":21.0,"v":2.98},{"s":"o","t":24.0,"v":2.49},{"s":"o","t":25.0,"v":2.35}],
  "eTrace": [{"t":0.25,"v":3.2},{"t":0.5,"v":3.4},{"t":0.8,"v":3.9},{"t":1.1,"v":4.6},{"t":1.4,"v":5.15},{"t":1.7,"v":5.45},{"t":2.0,"v":5.55},{"t":2.3,"v":5.6},{"t":2.5,"v":6.2},{"t":2.8,"v":6.5},{"t":3.1,"v":6.45},{"t":3.35,"v":6.3},{"t":3.5,"v":6.2},{"t":3.7,"v":6.6},{"t":3.9,"v":6.85},{"t":4.2,"v":6.75},{"t":4.5,"v":6.6},{"t":4.7,"v":6.35},{"t":4.9,"v":6.45},{"t":5.2,"v":6.55},{"t":5.6,"v":6.55},{"t":5.9,"v":6.35},{"t":6.05,"v":6.3},{"t":6.3,"v":6.6},{"t":6.6,"v":6.5},{"t":6.9,"v":6.3},{"t":7.1,"v":6.15},{"t":7.4,"v":6.35},{"t":7.8,"v":6.3},{"t":8.1,"v":6.1},{"t":8.3,"v":5.95},{"t":8.6,"v":6.1},{"t":9.0,"v":6.05},{"t":9.4,"v":5.8},{"t":9.7,"v":5.65},{"t":10.0,"v":5.85},{"t":10.4,"v":5.8},{"t":10.8,"v":5.55},{"t":11.0,"v":5.45},{"t":11.3,"v":5.6},{"t":11.7,"v":5.55},{"t":12.1,"v":5.3},{"t":12.3,"v":5.2},{"t":12.6,"v":5.35},{"t":13.0,"v":5.3},{"t":13.4,"v":5.1},{"t":13.6,"v":5.05},{"t":13.9,"v":5.1},{"t":14.4,"v":5.05},{"t":14.9,"v":4.9},{"t":15.2,"v":4.85},{"t":15.6,"v":4.95},{"t":16.0,"v":4.9},{"t":16.4,"v":4.75},{"t":16.6,"v":4.7},{"t":16.9,"v":4.8},{"t":17.3,"v":4.8},{"t":17.7,"v":4.6},{"t":17.9,"v":4.55},{"t":18.2,"v":4.62},{"t":18.7,"v":4.55},{"t":19.2,"v":4.4},{"t":19.5,"v":4.35},{"t":19.8,"v":4.42},{"t":20.3,"v":4.35},{"t":20.8,"v":4.2},{"t":21.1,"v":4.15},{"t":21.4,"v":4.25},{"t":21.8,"v":4.2},{"t":22.3,"v":4.05},{"t":22.6,"v":4.0},{"t":22.9,"v":4.08},{"t":23.2,"v":4.1},{"t":23.5,"v":3.95},{"t":23.9,"v":3.85},{"t":24.2,"v":3.8}],
  "eDots": [
   {"t":0.9,"v":2.9},{"t":0.92,"v":2.1},{"t":0.9,"v":1.6},{"t":0.88,"v":1.2},{"t":0.9,"v":0.7},
   {"t":2.25,"v":5.3},{"t":2.27,"v":4.75},{"t":2.25,"v":3.9},{"t":2.23,"v":2.85},{"t":2.25,"v":1.95},{"t":2.23,"v":1.0},
   {"t":3.5,"v":5.6},{"t":3.52,"v":5.0},{"t":3.5,"v":3.6},{"t":3.48,"v":2.35},{"t":3.5,"v":1.4},
   {"t":4.65,"v":5.6},{"t":4.67,"v":5.1},{"t":4.65,"v":4.4},{"t":4.63,"v":3.3},{"t":4.65,"v":2.2},{"t":4.63,"v":1.3},
   {"t":5.85,"v":5.2},{"t":5.87,"v":4.6},{"t":5.85,"v":3.45},{"t":5.83,"v":2.3},{"t":5.85,"v":1.6},
   {"t":7.05,"v":5.3},{"t":7.07,"v":4.5},{"t":7.05,"v":3.35},{"t":7.03,"v":2.2},{"t":7.05,"v":1.5},
   {"t":8.3,"v":5.0},{"t":8.32,"v":4.5},{"t":8.3,"v":3.2},{"t":8.28,"v":2.2},{"t":8.3,"v":1.7},
   {"t":9.5,"v":5.2},{"t":9.52,"v":4.2},{"t":9.5,"v":3.3},{"t":9.48,"v":2.1},{"t":9.5,"v":1.5},
   {"t":10.85,"v":4.9},{"t":10.87,"v":4.45},{"t":10.85,"v":3.75},{"t":10.83,"v":2.6},{"t":10.85,"v":2.2},{"t":10.83,"v":1.5},
   {"t":12.2,"v":4.8},{"t":12.22,"v":4.3},{"t":12.2,"v":3.5},{"t":12.18,"v":2.8},{"t":12.2,"v":2.0},{"t":12.18,"v":1.5},
   {"t":13.55,"v":4.6},{"t":13.57,"v":4.1},{"t":13.55,"v":3.4},{"t":13.53,"v":2.6},{"t":13.55,"v":1.8},{"t":13.53,"v":1.3},
   {"t":15.0,"v":4.4},{"t":15.02,"v":3.9},{"t":15.0,"v":3.2},{"t":14.98,"v":2.5},{"t":15.0,"v":1.8},
   {"t":16.45,"v":4.3},{"t":16.47,"v":3.8},{"t":16.45,"v":3.1},{"t":16.43,"v":2.4},{"t":16.45,"v":1.7},
   {"t":17.85,"v":4.1},{"t":17.87,"v":3.6},{"t":17.85,"v":2.9},{"t":17.83,"v":2.2},{"t":17.85,"v":1.6},
   {"t":19.55,"v":3.9},{"t":19.57,"v":3.4},{"t":19.55,"v":2.7},{"t":19.53,"v":2.0},{"t":19.55,"v":1.6},
   {"t":21.25,"v":3.8},{"t":21.27,"v":3.3},{"t":21.25,"v":2.6},{"t":21.23,"v":1.9},{"t":21.25,"v":1.5},
   {"t":22.85,"v":3.6},{"t":22.87,"v":3.2},{"t":22.85,"v":2.5},{"t":22.83,"v":1.9},{"t":22.85,"v":1.7}],
  "eFit": [{"t":0.2,"v":3.2},{"t":0.6,"v":3.95},{"t":1.0,"v":4.55},{"t":1.5,"v":5.1},{"t":2.0,"v":5.5},{"t":2.6,"v":5.78},{"t":3.3,"v":5.95},{"t":4.1,"v":6.02},{"t":5.0,"v":6.02},{"t":6.0,"v":5.96},{"t":7.3,"v":5.84},{"t":9.8,"v":5.57},{"t":12.2,"v":5.22},{"t":15,"v":4.88},{"t":18,"v":4.5},{"t":21,"v":4.12},{"t":25,"v":3.63}]
},
"bounds": "flush",
"spacing": 74,
"vconcat": [
 {
  "width": 729, "height": 245,
  "layer": [
   {"data": {"name": "aDots"}, "mark": {"type": "point", "filled": true, "size": 10, "opacity": 1, "color": "#3b8de6"},
    "encoding": {
     "x": {"field": "t", "type": "quantitative", "scale": {"domain": [0, 60], "nice": false, "zero": false}, "axis": {"orient": "bottom", "values": [0,10,20,30,40,50,60], "title": "t (s)", "labelFontSize": 20, "labelPadding": 20, "titleFontSize": 25, "titlePadding": 0, "tickSize": -7}},
     "y": {"field": "v", "type": "quantitative", "scale": {"domain": [0, 8], "nice": false}, "axis": {"orient": "left", "values": [0,2,4,6,8], "title": "V (cm/s)", "labelFontSize": 20, "labelPadding": 13, "titleFontSize": 26, "titlePadding": 7, "tickSize": -7}}
    }},
   {"data": {"name": "aTrace"}, "mark": {"type": "line", "color": "#3b8de6", "strokeWidth": 2.8},
    "encoding": {
     "x": {"field": "t", "type": "quantitative", "scale": {"domain": [0, 60], "nice": false, "zero": false}, "axis": {"orient": "top", "values": [0,10,20,30,40,50,60], "labels": false, "title": null, "tickSize": -7}},
     "y": {"field": "v", "type": "quantitative", "scale": {"domain": [0, 8], "nice": false}, "axis": {"orient": "right", "values": [0,2,4,6,8], "labels": false, "title": null, "tickSize": -7}}
    }},
   {"data": {"name": "aFit"}, "mark": {"type": "line", "color": "#0c234f", "strokeWidth": 2.6},
    "encoding": {
     "x": {"field": "t", "type": "quantitative", "scale": {"domain": [0, 60], "nice": false, "zero": false}, "axis": null},
     "y": {"field": "v", "type": "quantitative", "scale": {"domain": [0, 8], "nice": false}, "axis": null}}},
   {"data": {"name": "aRules"}, "mark": {"type": "rule", "color": "#7b2626", "strokeWidth": 1.6, "strokeDash": [9, 6]},
    "encoding": {
     "x": {"field": "t", "type": "quantitative", "scale": {"domain": [0, 60], "nice": false, "zero": false}, "axis": null},
     "y": {"field": "v", "type": "quantitative", "scale": {"domain": [0, 8], "nice": false}, "axis": null},
     "y2": {"field": "v2"}}},
   {"data": {"name": "aArrows"}, "mark": {"type": "rule", "color": "#9e1b1b", "strokeWidth": 2},
    "encoding": {
     "x": {"field": "t", "type": "quantitative", "scale": {"domain": [0, 60], "nice": false, "zero": false}, "axis": null},
     "y": {"field": "v", "type": "quantitative", "scale": {"domain": [0, 8], "nice": false}, "axis": null},
     "x2": {"field": "t2"}}},
   {"data": {"name": "aHeads"}, "mark": {"type": "point", "filled": true, "size": 300, "opacity": 1, "color": "#9e1b1b"},
    "encoding": {
     "x": {"field": "t", "type": "quantitative", "scale": {"domain": [0, 60], "nice": false, "zero": false}, "axis": null},
     "y": {"field": "v", "type": "quantitative", "scale": {"domain": [0, 8], "nice": false}, "axis": null},
     "shape": {"field": "d", "type": "nominal", "scale": {"domain": ["l", "r"], "range": ["M0,0L1.6,-0.5L1.6,0.5Z", "M0,0L-1.6,-0.5L-1.6,0.5Z"]}, "legend": null}}},
   {"data": {"name": "aCircles"}, "mark": {"type": "point", "shape": "circle", "size": 420, "fill": "white", "fillOpacity": 1, "stroke": "#9e1b1b", "strokeWidth": 2.4, "opacity": 1},
    "encoding": {
     "x": {"field": "t", "type": "quantitative", "scale": {"domain": [0, 60], "nice": false, "zero": false}, "axis": null},
     "y": {"field": "v", "type": "quantitative", "scale": {"domain": [0, 8], "nice": false}, "axis": null}}},
   {"data": {"name": "aCircles"}, "mark": {"type": "text", "font": "Liberation Sans", "fontSize": 17, "color": "#111", "baseline": "middle", "align": "center", "dy": 1},
    "encoding": {
     "x": {"field": "t", "type": "quantitative", "scale": {"domain": [0, 60], "nice": false, "zero": false}, "axis": null},
     "y": {"field": "v", "type": "quantitative", "scale": {"domain": [0, 8], "nice": false}, "axis": null},
     "text": {"field": "n"}}},
   {"data": {"values": [{}]}, "mark": {"type": "text", "font": "Liberation Sans", "fontSize": 38, "color": "#000", "align": "left", "baseline": "alphabetic"},
    "encoding": {"x": {"datum": -4.2, "type": "quantitative", "scale": {"domain": [0, 60], "nice": false, "zero": false}, "axis": null}, "y": {"datum": 8, "type": "quantitative", "scale": {"domain": [0, 8], "nice": false}, "axis": null}, "text": {"value": "A"}}}
  ]
 },
 {
  "bounds": "flush",
  "spacing": 66,
  "resolve": {"scale": {"color": "independent", "stroke": "independent"}},
  "hconcat": [
   {
    "width": 330, "height": 220,
    "layer": [
     {"data": {"name": "aDots"}, "transform": [{"filter": "datum.t <= 25"}], "mark": {"type": "point", "filled": true, "size": 10, "opacity": 1, "color": "#d9531a", "clip": true},
      "encoding": {
       "x": {"field": "t", "type": "quantitative", "scale": {"domain": [0, 25], "nice": false, "zero": false}, "axis": {"orient": "bottom", "values": [0,5,10,15,20,25], "title": "t (s)", "labelFontSize": 23, "labelPadding": 6, "titleFontSize": 26, "titlePadding": 3, "tickSize": -7}},
       "y": {"field": "v", "type": "quantitative", "scale": {"domain": [0, 7], "nice": false}, "axis": {"orient": "left", "values": [0,2,4,6], "title": "V (cm/s)", "labelFontSize": 23, "labelPadding": 6, "titleFontSize": 26, "titlePadding": 10, "tickSize": -7}}
      }},
     {"data": {"name": "bDots"}, "mark": {"type": "point", "filled": true, "size": 10, "opacity": 1, "clip": true},
      "encoding": {
       "x": {"field": "t", "type": "quantitative", "scale": {"domain": [0, 25], "nice": false, "zero": false}, "axis": null},
       "y": {"field": "v", "type": "quantitative", "scale": {"domain": [0, 7], "nice": false}, "axis": null},
       "color": {"field": "s", "type": "nominal", "scale": {"domain": ["g", "b", "p", "y"], "range": ["#72c22b", "#3f92e4", "#6b22d6", "#eaa71f"]}, "legend": null}}},
     {"data": {"name": "aTrace"}, "transform": [{"filter": "datum.t <= 26"}], "mark": {"type": "line", "color": "#d9531a", "strokeWidth": 2.4, "clip": true},
      "encoding": {
       "x": {"field": "t", "type": "quantitative", "scale": {"domain": [0, 25], "nice": false, "zero": false}, "axis": {"orient": "top", "values": [0,5,10,15,20,25], "labels": false, "title": null, "tickSize": -7}},
       "y": {"field": "v", "type": "quantitative", "scale": {"domain": [0, 7], "nice": false}, "axis": {"orient": "right", "values": [0,2,4,6], "labels": false, "title": null, "tickSize": -7}}
      }},
     {"data": {"name": "bTrace"}, "mark": {"type": "line", "strokeWidth": 2.4, "clip": true},
      "encoding": {
       "x": {"field": "t", "type": "quantitative", "scale": {"domain": [0, 25], "nice": false, "zero": false}, "axis": null},
       "y": {"field": "v", "type": "quantitative", "scale": {"domain": [0, 7], "nice": false}, "axis": null},
       "color": {"field": "s", "type": "nominal", "scale": {"domain": ["g", "b", "p", "y"], "range": ["#72c22b", "#3f92e4", "#6b22d6", "#eaa71f"]}, "legend": null}}},
     {"data": {"name": "bFit"}, "mark": {"type": "line", "strokeWidth": 2.6, "clip": true},
      "encoding": {
       "x": {"field": "t", "type": "quantitative", "scale": {"domain": [0, 25], "nice": false, "zero": false}, "axis": null},
       "y": {"field": "v", "type": "quantitative", "scale": {"domain": [0, 7], "nice": false}, "axis": null},
       "stroke": {"field": "s", "type": "nominal", "scale": {"domain": ["n", "i", "o"], "range": ["#0c2a6e", "#2b0e78", "#6b5214"]}, "legend": null}}},
     {"data": {"name": "aFit"}, "transform": [{"filter": "datum.t <= 26"}], "mark": {"type": "line", "color": "#2b5a13", "strokeWidth": 2.8, "clip": true},
      "encoding": {
       "x": {"field": "t", "type": "quantitative", "scale": {"domain": [0, 25], "nice": false, "zero": false}, "axis": null},
       "y": {"field": "v", "type": "quantitative", "scale": {"domain": [0, 7], "nice": false}, "axis": null}}},
     {"data": {"values": [{}]}, "mark": {"type": "text", "font": "Liberation Sans", "fontSize": 39, "color": "#000", "align": "left", "baseline": "alphabetic"},
      "encoding": {"x": {"datum": -3.9, "type": "quantitative", "scale": {"domain": [0, 25], "nice": false, "zero": false}, "axis": null}, "y": {"datum": 6.55, "type": "quantitative", "scale": {"domain": [0, 7], "nice": false}, "axis": null}, "text": {"value": "B"}}}
    ]
   },
   {
    "width": 333, "height": 220,
    "layer": [
     {"data": {"name": "eDots"}, "mark": {"type": "point", "filled": true, "size": 10, "opacity": 1, "clip": true},
      "encoding": {
       "x": {"field": "t", "type": "quantitative", "scale": {"domain": [0, 25], "nice": false, "zero": false}, "axis": {"orient": "bottom", "values": [0,5,10,15,20,25], "title": "t (s)", "labelFontSize": 23, "labelPadding": 6, "titleFontSize": 26, "titlePadding": 3, "tickSize": -7}},
       "y": {"field": "v", "type": "quantitative", "scale": {"domain": [0, 7], "nice": false}, "axis": {"orient": "left", "values": [0,2,4,6], "title": "V (cm/s)", "labelFontSize": 23, "labelPadding": 6, "titleFontSize": 26, "titlePadding": 10, "tickSize": -7}},
       "color": {"datum": "Ethanol", "type": "nominal", "scale": {"domain": ["Ethanol", "Silicone oil"], "range": ["#1515b5", "#d4481a"]}, "legend": {"orient": "none", "legendX": 185, "legendY": 6, "title": null, "labelFont": "Liberation Serif", "labelFontSize": 24, "labelColor": "#111", "symbolType": "circle", "symbolSize": 100, "symbolStrokeWidth": 0, "rowPadding": 2, "labelOffset": 9, "padding": 0}}
      }},
     {"data": {"name": "aDots"}, "transform": [{"filter": "datum.t <= 25"}], "mark": {"type": "point", "filled": true, "size": 10, "opacity": 1, "clip": true},
      "encoding": {
       "x": {"field": "t", "type": "quantitative", "scale": {"domain": [0, 25], "nice": false, "zero": false}, "axis": null},
       "y": {"field": "v", "type": "quantitative", "scale": {"domain": [0, 7], "nice": false}, "axis": null},
       "color": {"datum": "Silicone oil", "type": "nominal", "scale": {"domain": ["Ethanol", "Silicone oil"], "range": ["#1515b5", "#d4481a"]}}}},
     {"data": {"name": "aTrace"}, "transform": [{"filter": "datum.t <= 26"}], "mark": {"type": "line", "color": "#d4481a", "strokeWidth": 2.4, "clip": true},
      "encoding": {
       "x": {"field": "t", "type": "quantitative", "scale": {"domain": [0, 25], "nice": false, "zero": false}, "axis": {"orient": "top", "values": [0,5,10,15,20,25], "labels": false, "title": null, "tickSize": -7}},
       "y": {"field": "v", "type": "quantitative", "scale": {"domain": [0, 7], "nice": false}, "axis": {"orient": "right", "values": [0,2,4,6], "labels": false, "title": null, "tickSize": -7}}
      }},
     {"data": {"name": "eTrace"}, "mark": {"type": "line", "color": "#1515b5", "strokeWidth": 2.4, "clip": true},
      "encoding": {
       "x": {"field": "t", "type": "quantitative", "scale": {"domain": [0, 25], "nice": false, "zero": false}, "axis": null},
       "y": {"field": "v", "type": "quantitative", "scale": {"domain": [0, 7], "nice": false}, "axis": null}}},
     {"data": {"name": "eFit"}, "mark": {"type": "line", "color": "#1f63c4", "strokeWidth": 2.6, "clip": true},
      "encoding": {
       "x": {"field": "t", "type": "quantitative", "scale": {"domain": [0, 25], "nice": false, "zero": false}, "axis": null},
       "y": {"field": "v", "type": "quantitative", "scale": {"domain": [0, 7], "nice": false}, "axis": null}}},
     {"data": {"name": "aFit"}, "transform": [{"filter": "datum.t <= 26"}], "mark": {"type": "line", "color": "#4a180c", "strokeWidth": 2.6, "clip": true},
      "encoding": {
       "x": {"field": "t", "type": "quantitative", "scale": {"domain": [0, 25], "nice": false, "zero": false}, "axis": null},
       "y": {"field": "v", "type": "quantitative", "scale": {"domain": [0, 7], "nice": false}, "axis": null}}},
     {"data": {"values": [{}]}, "mark": {"type": "text", "font": "Liberation Sans", "fontSize": 38, "color": "#000", "align": "left", "baseline": "alphabetic"},
      "encoding": {"x": {"datum": -4.3, "type": "quantitative", "scale": {"domain": [0, 25], "nice": false, "zero": false}, "axis": null}, "y": {"datum": 6.52, "type": "quantitative", "scale": {"domain": [0, 7], "nice": false}, "axis": null}, "text": {"value": "C"}}}
    ]
   }
  ]
 }
]
}
